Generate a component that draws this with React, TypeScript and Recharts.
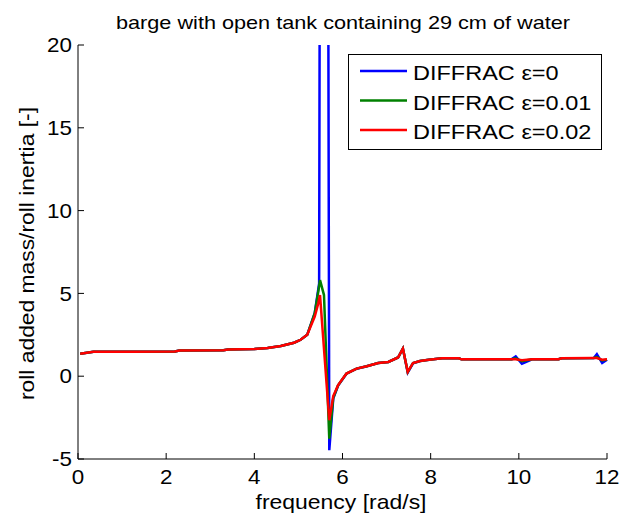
import { Legend, Line, LineChart, XAxis, YAxis } from "recharts";

// frequency grid [rad/s]
const freq = [
  0.05, 0.35, 1.2, 2.2, 2.3, 3.3, 3.4, 4.0, 4.3, 4.6, 4.9, 5.05, 5.2, 5.37, 5.45, 5.47, 5.49, 5.575, 5.58,
  5.7, 5.79, 5.9, 6.09, 6.32, 6.55, 6.81, 7.04, 7.26, 7.37, 7.48, 7.6, 7.76, 7.96, 8.26, 8.64, 8.7,
  9.84, 9.93, 10.07, 10.3, 10.9, 10.97, 11.7, 11.77, 11.89, 12.0,
];

// roll added mass / roll inertia, one list per damping value (null = no sample)
const eps0 = [
  1.35, 1.47, 1.48, 1.49, 1.55, 1.57, 1.61, 1.64, 1.7, 1.82, 2.02, 2.2, 2.5, 3.8, null, 5.6, null, 150, null,
  -4.47, -1.35, -0.56, 0.15, 0.45, 0.6, 0.8, 0.86, 1.13, 1.67, 0.22, 0.78, 0.92, 1.0, 1.08, 1.08, 1.02,
  1.03, 1.2, 0.75, 1.02, 1.03, 1.08, 1.1, 1.33, 0.8, 1.0,
];
const eps001 = [
  1.35, 1.47, 1.48, 1.49, 1.55, 1.57, 1.61, 1.64, 1.7, 1.82, 2.02, 2.2, 2.5, 3.8, 5.1, null, 5.8, null, 4.9,
  -3.77, -1.3, -0.55, 0.16, 0.46, 0.6, 0.8, 0.86, 1.13, 1.67, 0.25, 0.8, 0.92, 1.0, 1.08, 1.08, 1.02,
  1.03, 1.08, 0.9, 1.02, 1.03, 1.08, 1.1, 1.15, 0.95, 1.0,
];
const eps002 = [
  1.35, 1.47, 1.48, 1.49, 1.55, 1.57, 1.61, 1.64, 1.7, 1.82, 2.02, 2.2, 2.5, 3.6, 4.4, null, 4.9, null, null,
  -2.66, -1.2, -0.54, 0.16, 0.46, 0.6, 0.8, 0.86, 1.13, 1.67, 0.26, 0.8, 0.92, 1.0, 1.08, 1.08, 1.02,
  1.03, 1.03, 0.97, 1.02, 1.03, 1.08, 1.1, 1.1, 1.0, 1.02,
];

const xTicks = [0, 2, 4, 6, 8, 10, 12];
const yTicks = [-5, 0, 5, 10, 15, 20];

const series = [
  { key: "eps0", name: "DIFFRAC ε=0", color: "#0000ff" },
  { key: "eps001", name: "DIFFRAC ε=0.01", color: "#008000" },
  { key: "eps002", name: "DIFFRAC ε=0.02", color: "#ff0000" },
];

const data = freq.map((f, i) => ({ f, eps0: eps0[i], eps001: eps001[i], eps002: eps002[i] }));

const font = "'Liberation Sans', Arial, sans-serif";
const SX = 1.12; // the original figure is a bit stretched horizontally
const TICK = 6;
const MB = 11;
const ML = 6;

function Stretch({ x, y, size, anchor = "start", children, dy }: any) {
  return (
    <text
      transform={`translate(${x},${y}) scale(${SX},1)`}
      textAnchor={anchor}
      fontFamily={font}
      fontSize={size}
      fill="#000"
      dy={dy}
    >
      {children}
    </text>
  );
}

const BottomTick = (p: any) => (
  <g>
    <line x1={p.x} x2={p.x} y1={p.y - MB} y2={p.y - MB - TICK} stroke="#000" />
    <Stretch x={p.x} y={p.y} size={20} anchor="middle" dy="0.71em">
      {p.payload.value}
    </Stretch>
  </g>
);

const LeftTick = (p: any) => (
  <g>
    <line x1={p.x + ML} x2={p.x + ML + TICK} y1={p.y} y2={p.y} stroke="#000" />
    <Stretch x={p.x} y={p.y} size={20} anchor="end" dy="0.36em">
      {p.payload.value}
    </Stretch>
  </g>
);

const TopTick = (p: any) => <line x1={p.x} x2={p.x} y1={p.y} y2={p.y + TICK} stroke="#000" />;
const RightTick = (p: any) => <line x1={p.x} x2={p.x - TICK} y1={p.y} y2={p.y} stroke="#000" />;

function LegendBox() {
  return (
    <svg width={254} height={96} style={{ display: "block" }}>
      <rect x={0.5} y={0.5} width={253} height={95} fill="#fff" stroke="#000" />
      {series.map((s, i) => (
        <g key={s.key}>
          <line x1={12} x2={59} y1={17 + i * 29.5} y2={17 + i * 29.5} stroke={s.color} strokeWidth={2.5} />
          <Stretch x={65} y={26 + i * 29.5} size={21}>
            {s.name}
          </Stretch>
        </g>
      ))}
    </svg>
  );
}

export default function App() {
  return (
    <div style={{ position: "absolute", left: 0, top: 0, background: "#fff" }}>
      <LineChart width={635} height={519} data={data} margin={{ top: 45, right: 28, bottom: 0, left: 0 }}>
        <text
          x={343}
          y={29}
          textAnchor="middle"
          fontFamily={font}
          fontSize={19}
          fill="#000"
          textLength={454}
          lengthAdjust="spacingAndGlyphs"
        >
          barge with open tank containing 29 cm of water
        </text>
        <text
          x={341}
          y={509}
          textAnchor="middle"
          fontFamily={font}
          fontSize={21}
          fill="#000"
          textLength={171}
          lengthAdjust="spacingAndGlyphs"
        >
          frequency [rad/s]
        </text>
        <text
          transform="translate(34,253.5) rotate(-90)"
          textAnchor="middle"
          fontFamily={font}
          fontSize={20}
          fill="#000"
          textLength={293}
          lengthAdjust="spacingAndGlyphs"
        >
          roll added mass/roll inertia [-]
        </text>
        <XAxis
          xAxisId="b"
          dataKey="f"
          type="number"
          domain={[0, 12]}
          ticks={xTicks}
          height={60}
          tickSize={0}
          tickLine={false}
          tickMargin={MB}
          stroke="#000"
          tick={BottomTick}
        />
        <XAxis
          xAxisId="t"
          dataKey="f"
          type="number"
          orientation="top"
          domain={[0, 12]}
          ticks={xTicks}
          height={0}
          tickSize={0}
          tickLine={false}
          tickMargin={0}
          tick={TopTick}
          stroke="#000"
        />
        <YAxis
          yAxisId="l"
          type="number"
          domain={[-5, 20]}
          ticks={yTicks}
          allowDataOverflow
          width={78}
          tickSize={0}
          tickLine={false}
          tickMargin={ML}
          stroke="#000"
          tick={LeftTick}
        />
        <YAxis
          yAxisId="r"
          type="number"
          orientation="right"
          domain={[-5, 20]}
          ticks={yTicks}
          allowDataOverflow
          width={0}
          tickSize={0}
          tickLine={false}
          tickMargin={0}
          tick={RightTick}
          stroke="#000"
        />
        <Legend
          layout="horizontal"
          verticalAlign="middle"
          align="center"
          wrapperStyle={{ top: 54, left: 348, width: 254 }}
          content={() => <LegendBox />}
        />
        {series.map((s) => (
          <Line
            key={s.key}
            xAxisId="b"
            yAxisId="l"
            type="linear"
            dataKey={s.key}
            name={s.name}
            stroke={s.color}
            strokeWidth={2.5}
            dot={false}
            connectNulls
            isAnimationActive={false}
          />
        ))}
      </LineChart>
    </div>
  );
}
